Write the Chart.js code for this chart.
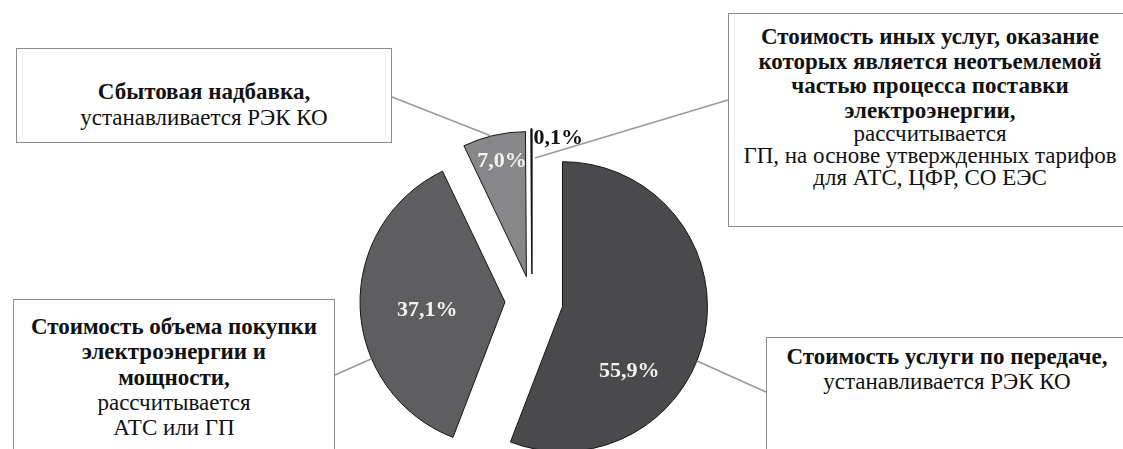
<!DOCTYPE html>
<html lang="ru">
<head>
<meta charset="utf-8">
<title>Структура конечной цены электроэнергии</title>
<script src="https://cdn.jsdelivr.net/npm/chart.js@4.4.1/dist/chart.umd.min.js"></script>
<style>
  body { margin: 0; background: #fff; }
  #wrap { position: relative; width: 1123px; height: 449px; overflow: hidden; }
  .box {
    position: absolute;
    box-sizing: border-box;
    border: 1.5px solid #8c8c8c;
    background: #fff;
    font-family: 'Liberation Serif', 'DejaVu Serif', serif;
    color: #111;
    text-align: center;
    white-space: nowrap;
  }
  .box b { display: block; font-size: 23px; }
  .box span { display: block; font-size: 23px; }
</style>
</head>
<body>
<div id="wrap">
  <canvas id="chart" width="1123" height="449"></canvas>
</div>
<script>
// доли в конечной цене, %
const shares = [55.9, 37.1, 7.0, 0.1];

const titles = [
  ['Стоимость услуги по передаче,'],
  ['Стоимость объема покупки', 'электроэнергии и', 'мощности,'],
  ['Сбытовая надбавка,'],
  ['Стоимость иных услуг, оказание', 'которых является неотъемлемой', 'частью процесса поставки', 'электроэнергии,']
];

const notes = [
  ['устанавливается РЭК КО'],
  ['рассчитывается', 'АТС или ГП'],
  ['устанавливается РЭК КО'],
  ['рассчитывается', 'ГП, на основе утвержденных тарифов', 'для АТС, ЦФР, СО ЕЭС']
];

const colors = ['#4a4a4c', '#5e5e60', '#87878a', '#ffffff'];
const labelColors = ['#f2f2f2', '#f2f2f2', '#f2f2f2', '#111111'];

// сдвиг секторов (px), как "разрезанная" диаграмма
const explode = [31, 27, 25, 27];

// где стоят подписи с процентами: угол от 12 часов по часовой, доля радиуса
const labelAt = [
  { angle: 134, r: 0.64 },
  { angle: 264, r: 0.54 },
  { angle: 348, r: 0.81 },
  { angle: 11, r: 0.95 }
];

// выноски к рамкам
const leaders = [
  { angle: 112, r: 1, x: 766, y: 392 },
  { angle: 247, r: 1, x: 335, y: 375 },
  { angle: 346, r: 1, x: 392, y: 97 },
  { angle: 1.5, r: 0.8, x: 728, y: 100 }
];

// рамки с пояснениями: положение, отступ сверху, интервал строк
const boxes = [
  { left: 766, top: 337, width: 362, height: 150, pad: 6, lh: 25, lhNote: 25 },
  { left: 13, top: 299, width: 322, height: 170, pad: 14, lh: 25.3, lhNote: 25 },
  { left: 16, top: 48, width: 376, height: 95, pad: 30, lh: 26, lhNote: 26 },
  { left: 728, top: 13, width: 404, height: 214, pad: 11, lh: 24.5, lhNote: 22 }
];

const serif = '"Liberation Serif", "DejaVu Serif", serif';

const wrap = document.getElementById('wrap');
boxes.forEach((b, i) => {
  const div = document.createElement('div');
  div.className = 'box';
  div.style.left = b.left + 'px';
  div.style.top = b.top + 'px';
  div.style.width = b.width + 'px';
  div.style.height = b.height + 'px';
  div.style.paddingTop = b.pad + 'px';
  div.innerHTML =
    titles[i].map(t => '<b style="line-height:' + b.lh + 'px">' + t + '</b>').join('') +
    notes[i].map(t => '<span style="line-height:' + b.lhNote + 'px">' + t + '</span>').join('');
  wrap.appendChild(div);
});

function slicePoint(arc, i, angleDeg, frac) {
  const mid = (arc.startAngle + arc.endAngle) / 2;
  const a = angleDeg * Math.PI / 180;
  const r = arc.outerRadius * frac;
  return {
    x: arc.x + Math.cos(mid) * explode[i] + Math.sin(a) * r,
    y: arc.y + Math.sin(mid) * explode[i] - Math.cos(a) * r
  };
}

const explodePlugin = {
  id: 'explode',
  beforeDatasetDraw(chart, args) {
    const ctx = chart.ctx;
    args.meta.data.forEach((arc, i) => {
      const mid = (arc.startAngle + arc.endAngle) / 2;
      ctx.save();
      ctx.translate(Math.cos(mid) * explode[i], Math.sin(mid) * explode[i]);
      arc.draw(ctx);
      ctx.restore();
    });
    return false;
  },
  afterDraw(chart) {
    const ctx = chart.ctx;
    const arcs = chart.getDatasetMeta(0).data;
    ctx.save();
    ctx.strokeStyle = '#9a9a9a';
    ctx.lineWidth = 1.5;
    leaders.forEach((l, i) => {
      const p = slicePoint(arcs[i], i, l.angle, l.r);
      ctx.beginPath();
      ctx.moveTo(p.x, p.y);
      ctx.lineTo(l.x, l.y);
      ctx.stroke();
    });
    ctx.font = 'bold 22px ' + serif;
    ctx.textAlign = 'center';
    ctx.textBaseline = 'middle';
    arcs.forEach((arc, i) => {
      const p = slicePoint(arc, i, labelAt[i].angle, labelAt[i].r);
      ctx.fillStyle = labelColors[i];
      ctx.fillText(shares[i].toFixed(1).replace('.', ',') + '%', p.x, p.y);
    });
    ctx.restore();
  }
};

const ctx = document.getElementById('chart');
new Chart(ctx.getContext('2d'), {
  type: 'pie',
  data: {
    labels: titles.map(t => t.join(' ')),
    datasets: [{
      data: shares,
      backgroundColor: colors,
      borderColor: '#151515',
      borderWidth: [1, 1, 1, 1.5]
    }]
  },
  options: {
    responsive: false,
    animation: false,
    events: [],
    radius: 145,
    layout: { padding: { left: 0, right: 59, top: 153, bottom: 0 } },
    plugins: {
      legend: { display: false },
      tooltip: { enabled: false }
    }
  },
  plugins: [explodePlugin]
});
</script>
</body>
</html>
